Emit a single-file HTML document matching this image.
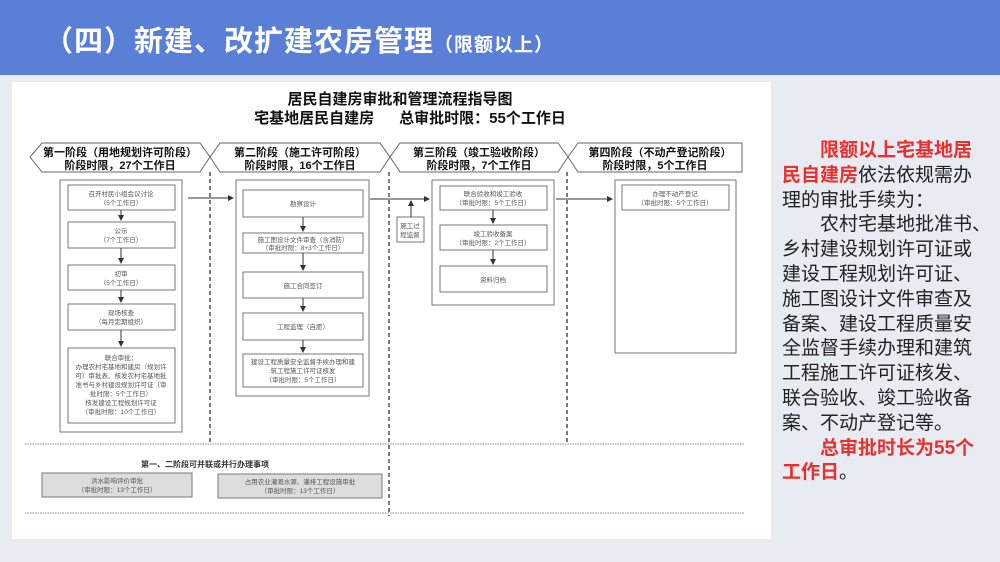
<!DOCTYPE html>
<html><head><meta charset="utf-8"><style>
body{margin:0;width:1000px;height:562px;overflow:hidden;background:#e9ebf3;font-family:"Liberation Sans","Noto Sans CJK SC",sans-serif;position:relative}
.hdr{position:absolute;left:0;top:0;width:1000px;height:75px;background:#5a7fd7}
.hdr .t{position:absolute;left:44px;top:18px;color:#fff;font-size:29px;font-weight:bold;letter-spacing:1px;white-space:nowrap}
.hdr .t small{font-size:19px;font-weight:bold}
.panel{position:absolute;left:12px;top:82px;width:759px;height:457px;background:#fff}
.rt{position:absolute;left:782px;top:139px;font-size:19px;line-height:24.8px;color:#222;letter-spacing:0;white-space:pre}
.r{color:#e8302e;font-weight:bold}
svg text{font-family:"Liberation Sans","Noto Sans CJK SC",sans-serif}
</style></head><body>
<div class="hdr"><div class="t">（四）新建、改扩建农房管理<small>（限额以上）</small></div></div>
<div class="panel"></div>
<svg style="position:absolute;left:0;top:0" width="1000" height="562">
<defs><marker id="a" markerWidth="6" markerHeight="6" refX="5" refY="3" orient="auto"><path d="M0,0L6,3L0,6z" fill="#333"/></marker></defs>
<g font-weight="bold" fill="#111" text-anchor="middle">
<text x="400" y="104" font-size="15">居民自建房审批和管理流程指导图</text>
<text x="410" y="123" font-size="15" xml:space="preserve">宅基地居民自建房      总审批时限：55个工作日</text>
</g>
<g fill="#fff" stroke="#666" stroke-width="1">
<path d="M30,157L42,143H200L210,157L200,172H42Z"/>
<path d="M210,157L220,143H380L390,157L380,172H220Z"/>
<path d="M390,157L400,143H558L568,157L558,172H400Z"/>
<path d="M568,157L578,143H742V172H578Z"/>
</g>
<g font-size="11" font-weight="bold" fill="#111" text-anchor="middle">
<text x="120" y="156">第一阶段（用地规划许可阶段）</text><text x="120" y="169">阶段时限，27个工作日</text>
<text x="300" y="156">第二阶段（施工许可阶段）</text><text x="300" y="169">阶段时限，16个工作日</text>
<text x="479" y="156">第三阶段（竣工验收阶段）</text><text x="479" y="169">阶段时限，7个工作日</text>
<text x="660" y="156">第四阶段（不动产登记阶段）</text><text x="655" y="169">阶段时限，5个工作日</text>
</g>
<g stroke="#333" stroke-width="1.3" stroke-dasharray="4,3">
<line x1="210" y1="172" x2="210" y2="444"/><line x1="389" y1="172" x2="389" y2="516"/><line x1="567" y1="172" x2="567" y2="444"/>
</g>
<g stroke="#888" stroke-width="1" stroke-dasharray="1.5,1">
<line x1="25" y1="444" x2="744" y2="444"/><line x1="25" y1="513" x2="744" y2="513"/>
</g>
<g fill="#fff" stroke="#777" stroke-width="1">
<rect x="60" y="180" width="122" height="252"/>
<rect x="68" y="185" width="107" height="25"/><rect x="68" y="222" width="107" height="26"/><rect x="68" y="265" width="107" height="25"/><rect x="68" y="304" width="107" height="26"/><rect x="68" y="348" width="107" height="75"/>
<rect x="236" y="180" width="133" height="216"/>
<rect x="243" y="190" width="120" height="27"/><rect x="243" y="233" width="120" height="20"/><rect x="243" y="272" width="120" height="26"/><rect x="243" y="313" width="120" height="27"/><rect x="243" y="354" width="120" height="33"/>
<rect x="432" y="180" width="122" height="125"/>
<rect x="440" y="186" width="107" height="24"/><rect x="440" y="225" width="107" height="25"/><rect x="440" y="266" width="107" height="26"/>
<rect x="615" y="180" width="121" height="173"/><rect x="622" y="185" width="107" height="25"/>
<rect x="397" y="217" width="27" height="25"/>
</g>
<g fill="#ddd" stroke="#777"><rect x="42" y="473" width="150" height="24"/><rect x="218" y="474" width="164" height="24"/></g>
<g stroke="#333" stroke-width="1" marker-end="url(#a)">
<line x1="121" y1="210" x2="121" y2="220"/><line x1="121" y1="248" x2="121" y2="263"/><line x1="121" y1="290" x2="121" y2="302"/><line x1="121" y1="330" x2="121" y2="346"/>
<line x1="303" y1="217" x2="303" y2="231"/><line x1="303" y1="253" x2="303" y2="270"/><line x1="303" y1="298" x2="303" y2="311"/><line x1="303" y1="340" x2="303" y2="352"/>
<line x1="493" y1="210" x2="493" y2="223"/><line x1="493" y1="250" x2="493" y2="264"/>
<line x1="188" y1="198" x2="233" y2="198"/><line x1="370" y1="199" x2="429" y2="199"/><line x1="556" y1="199" x2="612" y2="199"/>
<line x1="411" y1="217" x2="411" y2="201"/>
</g>
<g font-size="6.5" fill="#555" text-anchor="middle">
<text x="121" y="196">召开村民小组会议讨论</text><text x="121" y="205">（5个工作日）</text>
<text x="121" y="233">公示</text><text x="121" y="242">（7个工作日）</text>
<text x="121" y="276">初审</text><text x="121" y="285">（5个工作日）</text>
<text x="121" y="315">现场核查</text><text x="121" y="324">（每月定期组织）</text>
<text x="121" y="360">联合审批：</text><text x="121" y="369">办理农村宅基地和建房（规划许</text><text x="121" y="378">可）审批表、核发农村宅基地批</text><text x="121" y="387">准书与乡村建设规划许可证（审</text><text x="121" y="396">批时限：5个工作日）</text><text x="121" y="405">核发建设工程规划许可证</text><text x="121" y="414">（审批时限：10个工作日）</text>
<text x="303" y="206">勘察设计</text>
<text x="303" y="242">施工图设计文件审查（含消防）</text><text x="303" y="250">（审批时限：8+3个工作日）</text>
<text x="303" y="288">施工合同签订</text>
<text x="303" y="329">工程监理（自愿）</text>
<text x="303" y="364">建设工程质量安全监督手续办理和建</text><text x="303" y="373">筑工程施工许可证核发</text><text x="303" y="382">（审批时限：5个工作日）</text>
<text x="493" y="196">联合验收和竣工验收</text><text x="493" y="205">（审批时限：5个工作日）</text>
<text x="493" y="236">竣工验收备案</text><text x="493" y="245">（审批时限：2个工作日）</text>
<text x="493" y="282">资料归档</text>
<text x="675" y="196">办理不动产登记</text><text x="675" y="205">（审批时限：5个工作日）</text>
<text x="410" y="228">施工过</text><text x="410" y="237">程监督</text>
<text x="117" y="483">洪水影响评价审批</text><text x="117" y="492">（审批时限：13个工作日）</text>
<text x="300" y="484">占用农业灌溉水源、灌排工程设施审批</text><text x="300" y="493">（审批时限：13个工作日）</text>
</g>
<text x="205" y="467" font-size="8" fill="#333" text-anchor="middle" font-weight="bold">第一、二阶段可并联或并行办理事项</text>
</svg>
<div class="rt">　　<span class="r">限额以上宅基地居</span>
<span class="r">民自建房</span>依法依规需办
理的审批手续为：
　　农村宅基地批准书、
乡村建设规划许可证或
建设工程规划许可证、
施工图设计文件审查及
备案、建设工程质量安
全监督手续办理和建筑
工程施工许可证核发、
联合验收、竣工验收备
案、不动产登记等。
　　<span class="r">总审批时长为55个</span>
<span class="r">工作日</span>。</div>
</body></html>
